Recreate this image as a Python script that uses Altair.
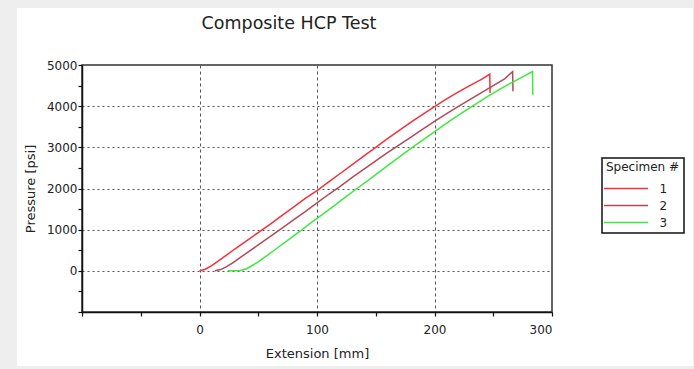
import altair as alt
import pandas as pd

# Specimen 1
s1_x = [0, 5, 10, 15, 20, 30, 40, 50, 60, 70, 80, 90, 100, 110, 120, 130, 140, 150,
        160, 170, 180, 190, 200, 210, 220, 230, 240, 247, 247.3]
s1_p = [0, 40, 120, 220, 320, 530, 730, 930, 1130, 1340, 1550, 1760, 1950, 2160, 2370,
        2580, 2790, 3000, 3210, 3410, 3610, 3800, 3990, 4170, 4340, 4500, 4650, 4780, 4320]
# Specimen 2
s2_x = [13, 18, 23, 28, 33, 40, 50, 60, 70, 80, 90, 100, 110, 120, 130, 140, 150, 160,
        170, 180, 190, 200, 210, 220, 230, 240, 250, 260, 266.5, 266.8]
s2_p = [0, 30, 100, 190, 290, 430, 630, 830, 1030, 1240, 1440, 1650, 1860, 2060, 2270,
        2470, 2670, 2870, 3060, 3250, 3440, 3630, 3810, 3990, 4160, 4330, 4500, 4670, 4840, 4360]
# Specimen 3
s3_x = [24, 34, 40, 45, 50, 55, 65, 75, 85, 95, 105, 115, 125, 134, 145, 155, 165, 175,
        185, 195, 205, 215, 225, 235, 245, 255, 265, 275, 283.4, 283.7]
s3_p = [0, 0, 50, 130, 220, 320, 530, 740, 950, 1170, 1380, 1590, 1810, 2000, 2230, 2445,
        2660, 2870, 3080, 3280, 3480, 3680, 3870, 4050, 4230, 4400, 4560, 4710, 4840, 4280]

specimens = ["1", "2", "3"]
colors = ["#f4303c", "#b24a55", "#3ee83e"]

x_ticks = list(range(-100, 301, 50))
y_ticks = list(range(-1000, 5001, 500))

rows = []
for name, xs, ps in zip(specimens, [s1_x, s2_x, s3_x], [s1_p, s2_p, s3_p]):
    for i, (xv, pv) in enumerate(zip(xs, ps)):
        rows.append({"Specimen": name, "Extension": xv, "Pressure": pv, "i": i})
df = pd.DataFrame(rows)

one = pd.DataFrame({"a": [0]})
FONT = "DejaVu Sans"

x_axis = alt.Axis(
    title="Extension [mm]", values=x_ticks, format="d",
    labelExpr="datum.value >= 0 && datum.value % 100 === 0 ? datum.label : ''",
    gridOpacity={"condition": {"test": "datum.value % 100 === 0 && datum.value > -100 && datum.value < 300", "value": 1}, "value": 0},
    gridDash=[3, 3], gridColor="#555", gridWidth=1,
    tickSize=4, tickColor="#111", tickWidth=1.2, labelPadding=8,
    domainColor="#111", domainWidth=1.5,
    labelFont=FONT, labelFontSize=12, labelColor="#222",
    titleFont=FONT, titleFontSize=13, titleFontWeight="normal", titleColor="#222", titlePadding=12,
)
y_axis = alt.Axis(
    title="Pressure [psi]", values=y_ticks, format="d",
    labelExpr="datum.value >= 0 && datum.value % 1000 === 0 ? datum.label : ''",
    gridOpacity={"condition": {"test": "datum.value % 1000 === 0 && datum.value >= 0 && datum.value < 5000", "value": 1}, "value": 0},
    gridDash=[2, 3], gridColor="#555", gridWidth=1,
    tickSize=4, tickColor="#111", tickWidth=1.2, labelPadding=1,
    domainColor="#111", domainWidth=1.5,
    labelFont=FONT, labelFontSize=12, labelColor="#222",
    titleFont=FONT, titleFontSize=13, titleFontWeight="normal", titleColor="#222", titlePadding=9,
)

lines = alt.Chart(df).mark_line(strokeWidth=1.5).encode(
    x=alt.X("Extension:Q", scale=alt.Scale(domain=[-100, 300], nice=False, zero=False), axis=x_axis),
    y=alt.Y("Pressure:Q", scale=alt.Scale(domain=[-1000, 5000], nice=False, zero=False), axis=y_axis),
    color=alt.Color("Specimen:N", scale=alt.Scale(domain=specimens, range=colors),
                    legend=alt.Legend(
                        title="Specimen #", orient="none", legendX=520, legendY=93,
                        padding=4, strokeColor="#111", fillColor="white",
                        symbolType="M-4,0H4", symbolSize=121, symbolStrokeWidth=1.5,
                        symbolOffset=13.5,
                        labelOffset=27, rowPadding=4, titlePadding=8,
                        titleFont=FONT, titleFontSize=12, titleFontWeight="normal", titleColor="#222",
                        labelFont=FONT, labelFontSize=12, labelColor="#222",
                    )),
    order="i:Q",
)

gray = "#eeeeee"
strip_left = alt.Chart(one).mark_rect(color=gray).encode(
    x=alt.value(-82), x2=alt.value(-65), y=alt.value(-65), y2=alt.value(304))
strip_top = alt.Chart(one).mark_rect(color=gray).encode(
    x=alt.value(-82), x2=alt.value(612), y=alt.value(-65), y2=alt.value(-57))
strip_bottom = alt.Chart(one).mark_rect(color=gray).encode(
    x=alt.value(-82), x2=alt.value(612), y=alt.value(301), y2=alt.value(304))
strip_right = alt.Chart(one).mark_rect(color=gray).encode(
    x=alt.value(611), x2=alt.value(612), y=alt.value(-65), y2=alt.value(304))

title = alt.Chart(one).mark_text(
    font=FONT, fontSize=17.5, color="#222", align="center", baseline="alphabetic"
).encode(x=alt.value(207), y=alt.value(-36), text=alt.value("Composite HCP Test"))

chart = alt.layer(strip_left, strip_top, strip_bottom, strip_right, lines, title).properties(
    width=470, height=247,
    padding={"left": 82, "top": 65, "right": 142, "bottom": 57},
    autosize=alt.AutoSizeParams(type="none"),
    background="white",
).configure_view(stroke="#333", strokeWidth=1.5).configure_legend(strokeWidth=1.5)

chart.save("out.html", embed_options={"renderer": "svg", "actions": False})
